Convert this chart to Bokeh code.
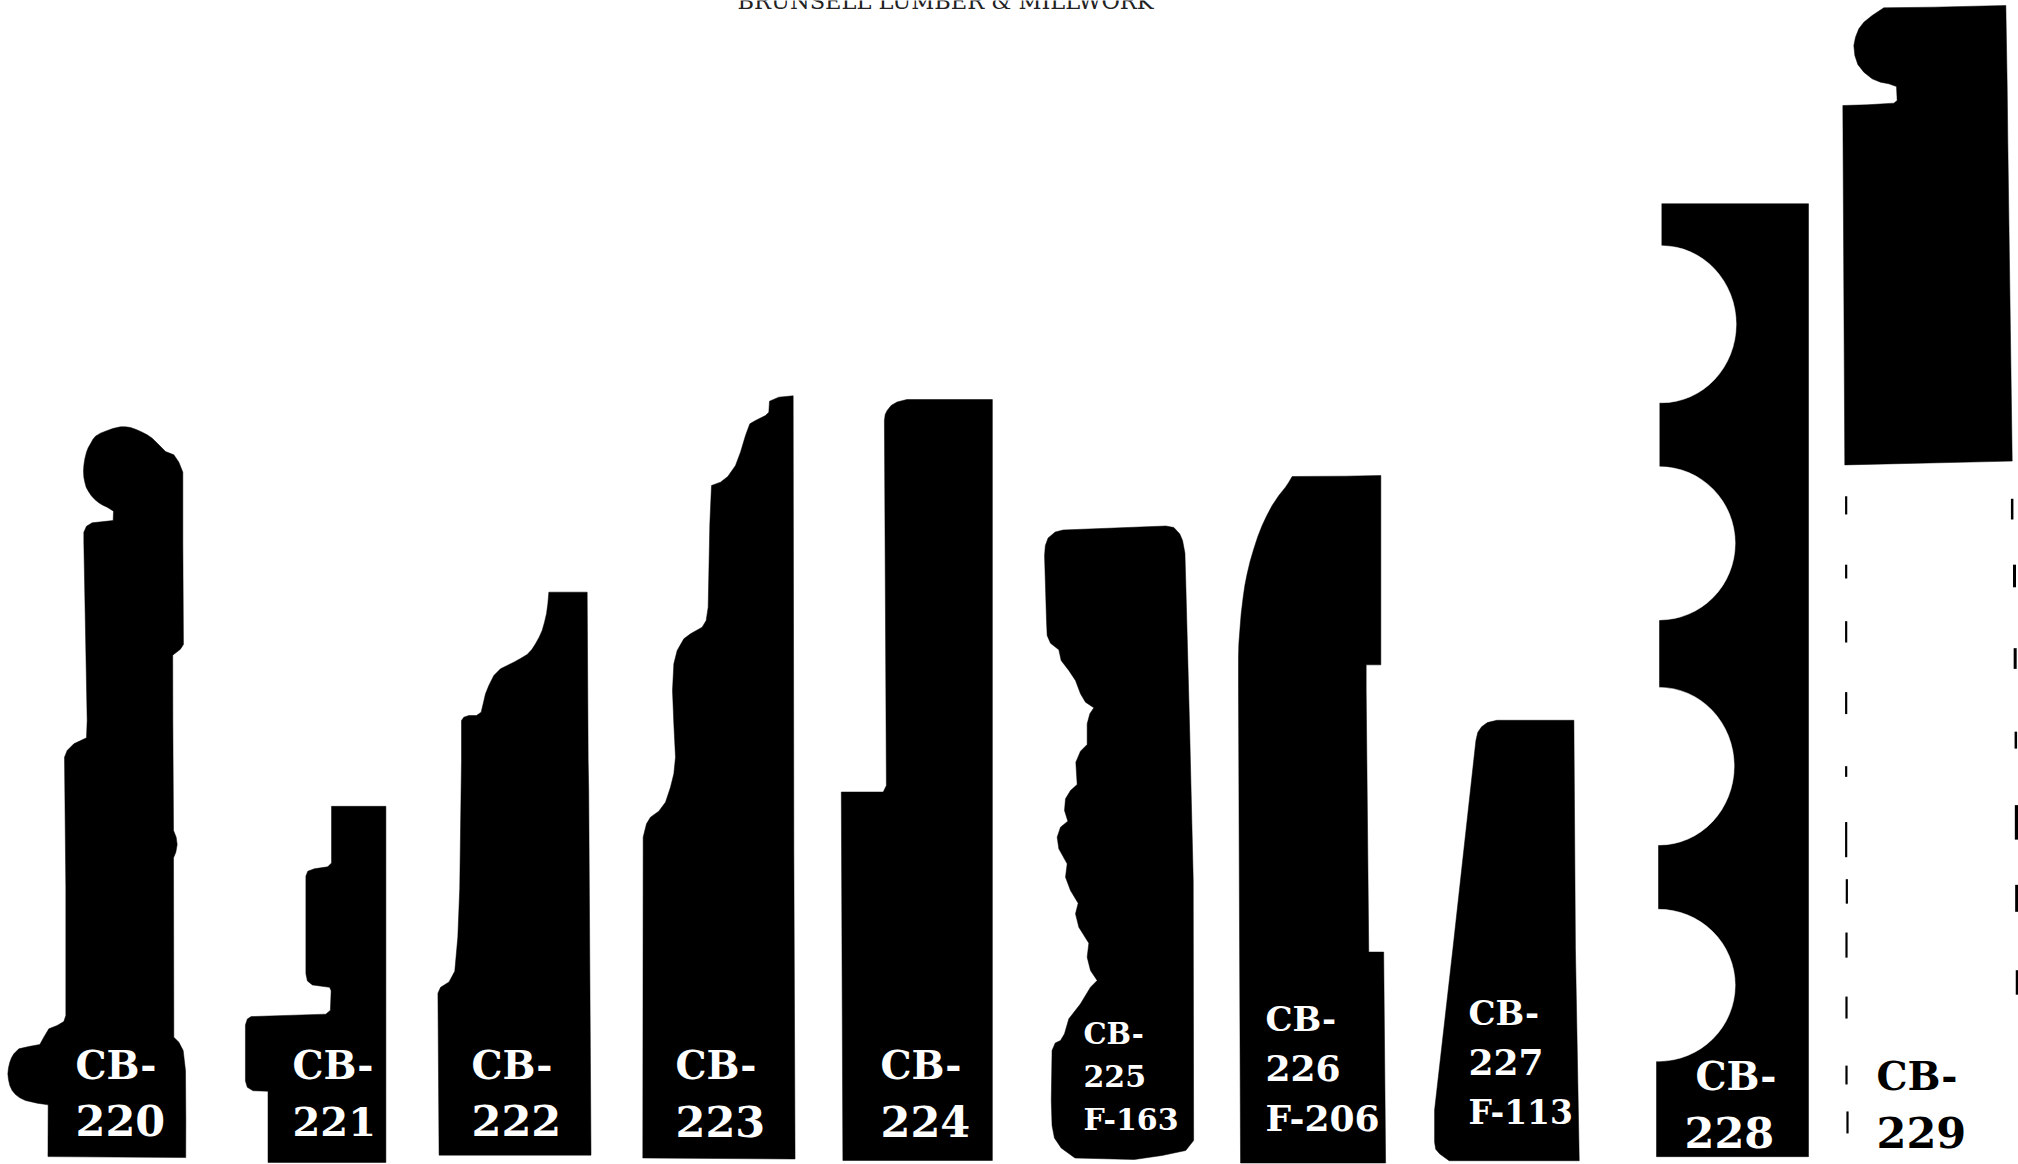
from bokeh.plotting import figure
from bokeh.models import ColumnDataSource
from bokeh.core.properties import value
from bokeh.embed import file_html
from bokeh.resources import INLINE

TITLE = "BRUNSELL LUMBER & MILLWORK"

# Crop frames the outlines were traced in: x origin, y origin, x units per pixel, y units per pixel
A = (0, 400, 2.613, 2.05)
B = (600, 380, 2.529, 2.0)
C = (1020, 440, 2.613, 2.166)
D = (1620, 180, 3.0, 1.593)
H1 = (70, 415, 3, 3)
F1 = (0, 720, 3, 3)
G = (1040, 620, 3, 3)
K = (420, 580, 3, 3)
M = (640, 390, 3, 3)
N = (1230, 470, 3, 3)
P = (1800, 0, 3, 3)
PAGE = (0, 0, 1, 1)

CB220 = [
    (A, [(124,1550)]),
    (F1, [(143,1153),(110,1148),(75,1140),(58,1132),(45,1122),(35,1110),(28,1095),(24,1078),(22,1060),(24,1042),(28,1025),(33,1012),(40,1000),(55,985),(85,978),(118,972),(130,950),(145,925),(170,915),(190,903),(196,885),(196,500),(192,110),(200,90),(220,70),(258,52),(260,0)]),
    (H1, [(40,380),(40,350),(48,332),(65,322),(128,315),(129,287),(110,275),(97,269),(85,262),(73,252),(62,240),(54,228),(47,215),(43,200),(40,185),(39,167),(40,150),(43,130),(48,110),(53,97),(60,85),(67,72),(75,62),(90,53),(105,47),(127,39),(150,34),(165,34),(180,36),(197,42),(215,50),(230,58),(245,68),(265,88),(285,108),(310,118),(325,140),(337,170),(337,380)]),
    (A, [(478,500),(470,510),(450,522)]),
    (F1, [(517,0),(519,330),(527,350),(530,372),(526,395),(519,412),(520,950),(535,965),(548,990),(555,1050),(556,1200)]),
    (A, [(484,1552)]),
]
CB221 = [(A, [(699,1562),(699,1416),(660,1415),(645,1408),(640,1395),(640,1280),(645,1268),(655,1263),(850,1258),(862,1250),(864,1210),(860,1203),(815,1198),(802,1190),(798,1175),(798,975),(803,965),(820,960),(855,956),(865,948),(865,832),(1007,832),(1007,1562)])]
CB222 = [
    (A, [(1146,1547),(1143,1215),(1150,1203),(1172,1192),(1187,1170),(1195,1100),(1200,1000)]),
    (K, [(123,540),(123,420),(130,410),(145,405),(168,405),(182,395),(188,370),(195,340),(205,315),(220,285),(240,265),(260,255),(280,245),(300,234),(320,222),(334,207),(345,190),(356,170),(365,150),(372,125),(378,100),(382,70),(385,35),(500,35),(503,540)]),
    (A, [(1537,800),(1543,1547)]),
]
CB223 = [
    (M, [(8,1380),(8,1340),(18,1300),(30,1280),(55,1262),(75,1235),(90,1190),(100,1150),(105,1100),(100,1000),(96,900),(100,820),(110,780),(130,745),(150,730),(185,710),(197,690),(203,650),(208,400),(213,285),(240,275),(262,258),(285,225),(300,185),(315,135),(328,100),(345,90),(375,75),(385,65),(387,32),(415,20),(458,16),(460,1380)]),
    (B, [(492,1557),(107,1555)]),
]
CB224 = [(B, [(613,1560),(609,823),(715,823),(723,810),(718,80),(720,68),(725,60),(735,50),(750,43),(775,38),(991,38),(991,1560)])]
CB225 = [
    (B, [(1200,1555),(1165,1535),(1148,1515),(1142,1490),(1140,1440),(1142,1340),(1150,1325)]),
    (G, [(60,1260),(72,1240),(85,1195),(120,1150),(150,1100),(170,1080),(150,1050),(140,1010),(145,968),(115,920),(105,880),(113,848),(90,810),(75,770),(80,730),(55,685),(50,650),(60,620),(82,602),(72,570),(75,535),(90,510),(110,492),(106,425),(120,392),(140,372),(140,310),(148,280),(160,262),(135,245),(120,220),(105,180),(85,150),(62,120),(55,88),(30,68),(20,45),(18,0)]),
    (B, [(1123,350),(1125,330),(1132,315),(1150,303),(1170,299),(1430,291),(1450,294),(1465,307),(1472,320),(1478,345),(1480,400),(1490,700),(1499,1000),(1500,1520),(1480,1540),(1420,1550),(1350,1558)]),
]
CB226 = [
    (C, [(575,1565),(572,1000)]),
    (N, [(24,660),(24,560),(25,520),(28,480),(32,430),(38,380),(43,345),(50,310),(59,272),(70,235),(82,198),(95,165),(109,135),(125,105),(145,75),(165,50),(175,35),(185,18),(345,17),(451,15),(451,583),(407,583),(407,660)]),
    (C, [(910,1108),(949,1108),(954,1565)]),
]
CB227 = [(C, [(1120,1560),(1095,1545),(1085,1535),(1082,1520),(1082,1450),(1130,1100),(1190,650),(1195,632),(1205,620),(1220,611),(1245,606),(1446,606),(1450,1100),(1460,1560)])]
# CB-228 body; its four round cuts are the white ellipses below
CB228 = [(D, [(108,1555),(108,1403),(114,1282),(114,1058),(117,933),(117,700),(118,578),(118,354),(124,229),(124,37),(564,37),(564,1555)])]
CB229 = [
    (P, [(127,315),(200,313),(280,308),(290,300),(288,258),(265,250),(240,245),(215,235),(190,215),(172,192),(163,165),(160,135),(165,110),(175,85),(190,65),(215,45),(250,22),(400,20),(616,15),(620,255),(622,430)]),
    (PAGE, [(2011.7,460.6),(1844.3,464.4)]),
]
PROFILES = [CB220, CB221, CB222, CB223, CB224, CB225, CB226, CB227, CB228, CB229]

# CB-228 round cuts, in crop D units: centre x, centre y, half width, half height
CUT_X = [124, 118, 117, 114]
CUT_Y = [229, 578, 933, 1282]
CUT_A = [223, 226, 224, 230]
CUT_B = [125, 122, 125.5, 121]

# Cut line dashes below CB-229 (crop x, y start, y end, stroke)
DASH_LEFT_X = [677,677,677,677,677,677,679,678,678,678,681]
DASH_LEFT_Y0 = [503,612,702,815,933,1022,1113,1198,1300,1410,1483]
DASH_LEFT_Y1 = [532,634,736,850,950,1078,1152,1238,1335,1440,1518]
DASH_RIGHT_X = [1175,1182,1184,1186,1189,1190,1191]
DASH_RIGHT_Y0 = [507,612,745,878,995,1122,1258]
DASH_RIGHT_Y1 = [540,648,778,905,1050,1165,1297]
DASH_RIGHT_W = [2.5,3,3,2.5,4,4,3.5]

# Labels: text, x, baseline y, size, colour
LABEL_TEXT = ["CB-","220","CB-","221","CB-","222","CB-","223","CB-","224",
              "CB-","225","F-163","CB-","226","F-206","CB-","227","F-113",
              "CB-","228","CB-","229"]
LABEL_X = [75,75,292,292,471,471,675,675,880,880,
           1083,1083,1083,1265,1265,1265,1468,1468,1468,
           1695,1684,1876,1876]
LABEL_Y = [1082,1139,1082,1139,1082,1139,1082,1140,1082,1140,
           1047,1089,1132,1034,1083.5,1134,1028,1078,1127,
           1093,1151,1093,1151]
LABEL_SIZE = [39,43,39,40,39,43,39,43,39,43,
              29,30,30,34,36,36,34,36,33,
              39,43,39,43]
LABEL_COLOR = ["white"]*21 + ["black"]*2
BASELINE_SHIFT = 0.45


def to_page(profile):
    xs, ys = [], []
    for (ox, oy, sx, sy), pts in profile:
        xs += [ox + x / sx for x, y in pts]
        ys += [oy + y / sy for x, y in pts]
    return xs, ys


p = figure(width=2018, height=1164, x_range=(0, 2018), y_range=(1164, 0),
           output_backend="svg", toolbar_location=None, min_border=0,
           x_axis_location=None, y_axis_location=None, outline_line_color=None,
           background_fill_color="white", border_fill_color="white")
p.grid.visible = False

for prof in PROFILES:
    xs, ys = to_page(prof)
    p.patch(xs, ys, fill_color="black", line_color="black", line_width=0.5)

ox, oy, sx, sy = D
p.ellipse([ox + x / sx for x in CUT_X], [oy + y / sy for y in CUT_Y],
          width=[2 * a / sx for a in CUT_A], height=[2 * b / sy for b in CUT_B],
          fill_color="white", line_color="white", line_width=0.5)
p.segment([ox + x / sx for x in DASH_LEFT_X], [oy + y / sy for y in DASH_LEFT_Y0],
          [ox + x / sx for x in DASH_LEFT_X], [oy + y / sy for y in DASH_LEFT_Y1],
          line_color="black", line_width=2.2)
p.segment([ox + x / sx for x in DASH_RIGHT_X], [oy + y / sy for y in DASH_RIGHT_Y0],
          [ox + x / sx for x in DASH_RIGHT_X], [oy + y / sy for y in DASH_RIGHT_Y1],
          line_color="black", line_width=DASH_RIGHT_W)

src = ColumnDataSource(dict(t=LABEL_TEXT, x=LABEL_X,
                            y=[y - BASELINE_SHIFT * s for y, s in zip(LABEL_Y, LABEL_SIZE)],
                            s=[f"{v}px" for v in LABEL_SIZE], c=LABEL_COLOR))
p.text("x", "y", text="t", source=src, text_font=value("DejaVu Serif"),
       text_font_style="bold", text_font_size="s", text_color="c",
       text_baseline="alphabetic", text_align="left")

p.text([737], [11 - BASELINE_SHIFT * 22.5], text=[TITLE], text_font=value("DejaVu Serif"),
       text_font_size=value("22.5px"), text_color="#222222",
       text_baseline="alphabetic", text_align="left")

open("out.html", "w").write(file_html(p, INLINE))
